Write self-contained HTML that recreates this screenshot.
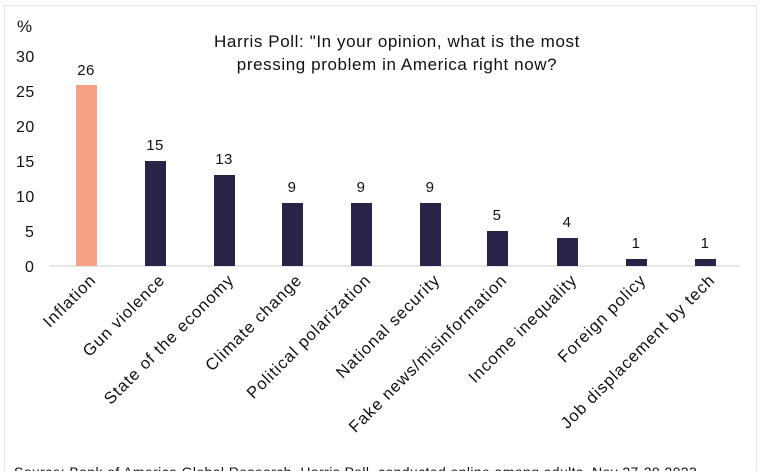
<!DOCTYPE html><html><head><style>body{margin:0;background:#fff;width:763px;height:471px;overflow:hidden}</style></head><body>
<svg width="763" height="471" xmlns="http://www.w3.org/2000/svg" font-family="Liberation Sans, sans-serif">
<rect x="4.5" y="5.5" width="752" height="480" fill="none" stroke="#e3e3e3"/>
<text x="17" y="32" font-size="17" fill="#111">%</text>
<g font-size="16" fill="#111" letter-spacing="0.5">
<text x="16" y="62">30</text><text x="16" y="97">25</text><text x="16" y="132">20</text><text x="16" y="167">15</text><text x="16" y="202">10</text><text x="25" y="237">5</text><text x="25" y="272">0</text>
</g>
<g font-size="17" text-anchor="middle" fill="#111" letter-spacing="0.6">
<text x="397" y="47">Harris Poll: "In your opinion, what is the most</text>
<text x="397" y="70">pressing problem in America right now?</text>
</g>
<line x1="50" y1="266" x2="740" y2="266" stroke="#ccc"/>
<g font-size="15" text-anchor="middle" fill="#111" letter-spacing="0.4">
<rect x="76" y="85" width="21" height="181" fill="#f9a184"/><text x="86" y="75">26</text>
<rect x="145" y="161" width="21" height="105" fill="#2a2347"/><text x="155" y="150">15</text>
<rect x="214" y="175" width="21" height="91" fill="#2a2347"/><text x="224" y="164">13</text>
<rect x="282" y="203" width="21" height="63" fill="#2a2347"/><text x="292" y="192">9</text>
<rect x="351" y="203" width="21" height="63" fill="#2a2347"/><text x="361" y="192">9</text>
<rect x="420" y="203" width="21" height="63" fill="#2a2347"/><text x="430" y="192">9</text>
<rect x="487" y="231" width="21" height="35" fill="#2a2347"/><text x="497" y="220">5</text>
<rect x="557" y="238" width="21" height="28" fill="#2a2347"/><text x="567" y="227">4</text>
<rect x="626" y="259" width="21" height="7" fill="#2a2347"/><text x="636" y="248">1</text>
<rect x="695" y="259" width="21" height="7" fill="#2a2347"/><text x="705" y="248">1</text>
</g>
<g font-size="16.5" text-anchor="end" fill="#111" letter-spacing="1">
<text transform="translate(97,281) rotate(-45)">Inflation</text>
<text transform="translate(166,281) rotate(-45)">Gun violence</text>
<text transform="translate(235,281) rotate(-45)">State of the economy</text>
<text transform="translate(303,281) rotate(-45)">Climate change</text>
<text transform="translate(372,281) rotate(-45)">Political polarization</text>
<text transform="translate(441,281) rotate(-45)">National security</text>
<text transform="translate(508,281) rotate(-45)">Fake news/misinformation</text>
<text transform="translate(578,281) rotate(-45)">Income inequality</text>
<text transform="translate(647,281) rotate(-45)">Foreign policy</text>
<text transform="translate(716,281) rotate(-45)">Job displacement by tech</text>
</g>
<text x="14" y="477" font-size="14" fill="#111" letter-spacing="0.4">Source: Bank of America Global Research, Harris Poll, conducted online among adults, Nov 27-29 2023</text>
</svg>
</body></html>
